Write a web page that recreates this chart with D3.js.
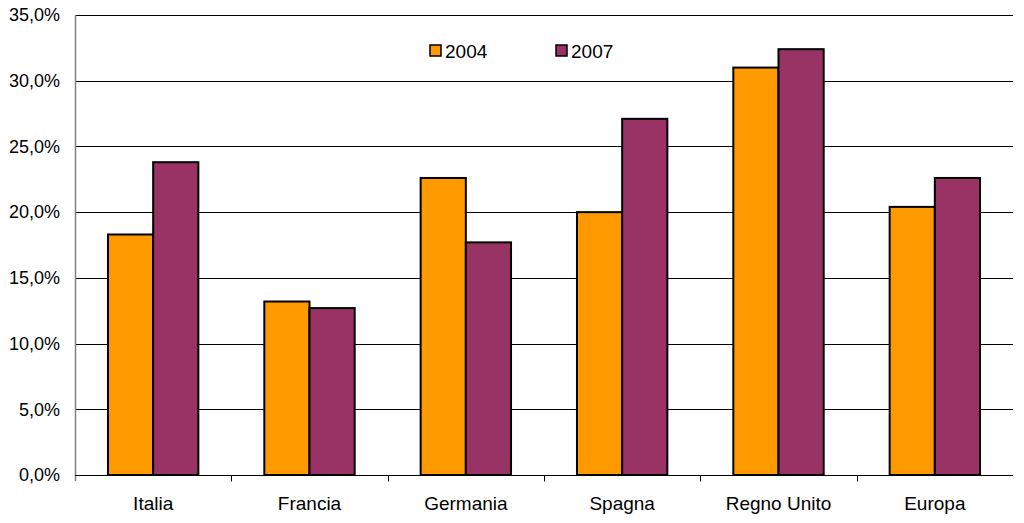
<!DOCTYPE html>
<html>
<head>
<meta charset="utf-8">
<script src="https://cdn.jsdelivr.net/npm/d3@7"></script>
<style>
  body { margin: 0; background: #fff; }
  text { font-family: Arial, "Liberation Sans", sans-serif; fill: #000; }
</style>
</head>
<body>
<div id="chart"></div>
<script>
// data
var categories = ["Italia", "Francia", "Germania", "Spagna", "Regno Unito", "Europa"];
var seriesNames = ["2004", "2007"];
var values2004 = [18.3, 13.2, 22.6, 20.0, 31.0, 20.4];
var values2007 = [23.8, 12.7, 17.7, 27.1, 32.4, 22.6];
var yTicks = [0, 5, 10, 15, 20, 25, 30, 35];

var colors = ["#FF9900", "#993366"];
var width = 1024, height = 523;
var margin = { top: 15, right: 11, bottom: 48, left: 75 };

var svg = d3.select("#chart").append("svg")
    .attr("width", width)
    .attr("height", height);

var x = d3.scaleBand()
    .domain(categories)
    .range([margin.left, width - margin.right]);

var y = d3.scaleLinear()
    .domain([0, 35])
    .range([height - margin.bottom, margin.top]);

var inner = d3.scaleBand()
    .domain(seriesNames)
    .range([0, x.bandwidth()])
    .paddingOuter(0.73);

//Gridlines
svg.append("g").selectAll("line")
    .data(yTicks.slice(1))
    .enter().append("line")
    .attr("x1", margin.left)
    .attr("x2", width - margin.right)
    .attr("y1", function (d) { return Math.round(y(d)) + 0.5; })
    .attr("y2", function (d) { return Math.round(y(d)) + 0.5; })
    .attr("stroke", "#000")
    .attr("stroke-width", 1);

//Bars
var rows = categories.map(function (c, i) {
    return { cat: c, vals: [values2004[i], values2007[i]] };
});

var groups = svg.append("g").selectAll("g")
    .data(rows)
    .enter().append("g")
    .attr("transform", function (d) { return "translate(" + x(d.cat) + ",0)"; });

groups.selectAll("rect")
    .data(function (d) { return d.vals.map(function (v, i) { return { s: seriesNames[i], v: v, i: i }; }); })
    .enter().append("rect")
    .attr("x", function (d) { return inner(d.s); })
    .attr("width", inner.bandwidth())
    .attr("y", function (d) { return y(d.v); })
    .attr("height", function (d) { return y(0) - y(d.v); })
    .attr("fill", function (d) { return colors[d.i]; })
    .attr("stroke", "#000")
    .attr("stroke-width", 2);

//Y axis
var yAxis = d3.axisLeft(y)
    .tickValues(yTicks)
    .tickSize(0)
    .tickPadding(15)
    .tickFormat(function (d) { return d3.format(".1f")(d).replace(".", ",") + "%"; });

var gy = svg.append("g")
    .attr("transform", "translate(" + margin.left + ",0)")
    .call(yAxis);
gy.select(".domain").remove();
gy.selectAll("text").style("font-size", "18px");
gy.append("line")
    .attr("x1", 0.5).attr("x2", 0.5)
    .attr("y1", margin.top).attr("y2", y(0) + 6)
    .attr("stroke", "#808080")
    .attr("stroke-width", 1.5);

//X axis
var xAxis = d3.axisBottom(x).tickSize(0).tickPadding(21);
var gx = svg.append("g")
    .attr("transform", "translate(0," + (Math.round(y(0)) + 0.5) + ")")
    .call(xAxis);
gx.select(".domain")
    .attr("d", "M" + margin.left + ",0H" + (width - margin.right))
    .attr("stroke", "#000");
gx.selectAll("text").style("font-size", "19px");
gx.append("g").selectAll("line")
    .data(categories.slice(1))
    .enter().append("line")
    .attr("x1", function (d) { return Math.round(x(d)) + 0.5; })
    .attr("x2", function (d) { return Math.round(x(d)) + 0.5; })
    .attr("y1", 0).attr("y2", 6)
    .attr("stroke", "#000");

//Legend
var legend = svg.append("g").selectAll("g")
    .data(seriesNames)
    .enter().append("g")
    .attr("transform", function (d, i) { return "translate(" + (430 + i * 126) + ",45)"; });

legend.append("rect")
    .attr("width", 11).attr("height", 11)
    .attr("fill", function (d, i) { return colors[i]; })
    .attr("stroke", "#000")
    .attr("stroke-width", 1.5);

legend.append("text")
    .attr("x", 15)
    .attr("y", 13)
    .style("font-size", "19px")
    .text(function (d) { return d; });
</script>
</body>
</html>
